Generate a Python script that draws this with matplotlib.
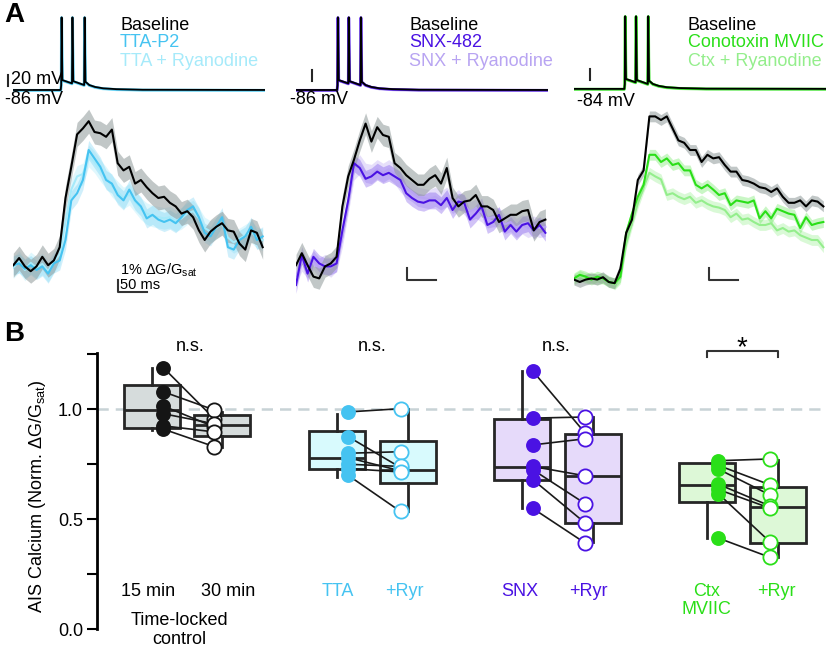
import numpy as np
import matplotlib.pyplot as plt

plt.rcParams['font.family'] = ['Liberation Sans', 'DejaVu Sans']
plt.rcParams['mathtext.fontset'] = 'custom'
plt.rcParams['mathtext.rm'] = 'Liberation Sans'

# ---------------- data ----------------
# Panel A: AIS calcium transients (% dG/Gsat), sampled every 10 ms
ca_time = [0, 10, 20, 30, 40, 50, 60, 70, 80, 90, 100, 110, 120, 130, 140,
           150, 160, 170, 180, 190, 200, 210, 220, 230, 240, 250, 260, 270,
           280, 290, 300, 310, 320, 330, 340, 350, 360, 370, 380, 390, 400,
           410, 420, 430]

ca_tta_base = [-0.1, 0.5, -0.2, -0.6, -0.2, 0.6, -0.1, 0.3, 1.4, 5.5, 8.1, 10.8,
               11.3, 11.9, 11.0, 10.9, 10.6, 11.2, 8.4, 7.8, 8.1, 6.7, 7.0, 6.4,
               5.9, 5.5, 5.6, 5.1, 4.8, 4.2, 4.4, 3.9, 2.8, 2.0, 2.7, 3.1, 3.4,
               2.8, 2.7, 1.7, 1.2, 2.8, 2.6, 1.4]
ca_tta = [-0.1, 0.05, -0.4, -0.1, -0.5, -0.2, -0.8, 0.05, 0.3, 2.0, 5.3, 5.9,
          7.0, 9.5, 8.8, 8.1, 7.0, 6.7, 5.75, 5.3, 6.2, 5.3, 4.8, 3.8, 4.1, 3.7,
          3.5, 3.7, 3.4, 3.9, 4.5, 4.8, 3.9, 2.6, 2.3, 3.1, 3.9, 1.4, 1.2, 2.0,
          2.3, 3.1, 2.0, 2.3]
ca_tta_ryr = [-0.3, 0.2, -0.5, 0.1, -0.3, 0.0, -0.6, 0.2, 0.8, 3.5, 6.2, 7.3,
              7.5, 9.0, 8.5, 7.8, 7.2, 6.5, 6.0, 5.5, 5.8, 5.2, 4.6, 4.2, 4.0,
              3.9, 3.8, 3.9, 3.6, 3.8, 4.2, 4.4, 3.8, 3.0, 2.7, 3.0, 3.4, 2.2,
              1.8, 2.1, 2.4, 2.7, 2.2, 2.0]

ca_snx_base = [-0.1, 0.9, -0.1, -1.05, -1.2, -0.2, 0.05, 0.6, 4.8, 7.3, 8.7, 10.3,
               11.7, 10.2, 11.4, 10.75, 10.6, 8.4, 8.0, 7.4, 7.0, 6.6, 6.6, 7.1,
               7.4, 6.7, 8.0, 5.5, 4.8, 5.2, 5.3, 5.75, 4.8, 4.8, 4.5, 3.5, 3.8,
               4.1, 4.1, 4.4, 4.5, 2.8, 3.5, 3.7]
ca_snx = [-1.75, 0.75, -0.8, 0.6, 0.05, -0.2, -0.2, 0.05, 2.8, 5.3, 8.4, 8.0,
          7.1, 7.3, 7.7, 7.4, 7.6, 7.3, 7.0, 5.9, 5.5, 5.2, 5.1, 5.3, 5.3, 4.9,
          5.5, 4.5, 5.2, 5.1, 3.7, 4.2, 4.8, 3.25, 3.5, 4.1, 2.7, 3.25, 2.7,
          3.25, 3.4, 2.8, 3.25, 2.6]
ca_snx_ryr = [-1.0, 0.2, -0.4, 0.3, -0.3, 0.0, -0.3, 0.2, 2.2, 5.0, 7.8, 8.3,
              7.6, 7.5, 7.9, 7.6, 7.9, 7.5, 6.8, 6.3, 6.0, 5.6, 5.5, 5.4, 5.6,
              5.3, 5.6, 5.0, 5.4, 4.9, 4.4, 4.6, 4.3, 3.8, 3.9, 3.9, 3.3, 3.5,
              3.0, 3.3, 3.0, 3.2, 3.0, 3.1]

ca_ctx_base = [-1.3, -1.5, -1.3, -1.2, -1.3, -1.1, -1.5, -1.6, -0.4, 2.6, 3.7, 7.0,
               7.8, 12.3, 12.3, 12.0, 12.3, 11.3, 10.3, 10.1, 9.5, 9.5, 8.5, 9.1,
               8.8, 8.9, 8.25, 7.7, 7.7, 7.0, 6.9, 6.7, 6.4, 6.3, 6.0, 6.3, 5.6,
               5.1, 5.1, 5.3, 4.8, 5.3, 5.2, 4.8]
ca_ctx = [-1.2, -0.9, -1.05, -1.3, -1.05, -1.2, -1.5, -1.6, -1.05, 2.6, 4.2, 5.6,
          6.6, 9.1, 9.1, 8.5, 8.8, 8.25, 8.4, 7.8, 7.8, 6.6, 6.3, 6.6, 6.2, 5.75,
          5.9, 4.9, 5.3, 5.2, 5.1, 5.3, 3.8, 4.4, 3.8, 4.6, 4.4, 4.2, 4.1, 3.0,
          3.9, 3.25, 3.4, 3.5]
ca_ctx_ryr = [-1.3, -1.0, -1.2, -1.1, -1.3, -1.2, -1.4, -1.7, -1.2, 1.7, 3.4, 5.05,
              6.4, 7.6, 7.3, 7.05, 5.75, 5.9, 5.6, 5.4, 5.6, 5.1, 5.3, 5.0, 4.8,
              4.7, 4.5, 3.9, 4.2, 3.7, 3.8, 3.5, 3.25, 3.25, 3.4, 2.8, 3.0, 2.7,
              2.8, 2.4, 2.2, 2.0, 2.0, 1.4]

ca_sem = [[1.0, 0.8, 0.9], [0.9, 0.7, 0.8], [0.45, 0.45, 0.45]]

# voltage: three-spike burst, time relative to first spike (ms), mV above rest
ap_t_rel = [-100, -1.2, -0.4, 0.3, 1.6, 18.2, 19.0, 20.4, 39.2, 40.0, 41.4,
            48, 58, 72, 95, 140, 380]
ap_v_rel = [0, 0, 9, 132, 18, 12, 132, 16, 9, 132, 15, 9, 5.5, 3, 1.5, 0.4, 0]
spike_onset = [83, 72, 88]
rest_mv = [-86, -86, -84]

legend_labels = [['Baseline', 'TTA-P2', 'TTA + Ryanodine'],
                 ['Baseline', 'SNX-482', 'SNX + Ryanodine'],
                 ['Baseline', 'Conotoxin MVIIC', 'Ctx + Ryanodine']]

# Panel B: normalized AIS calcium
box_labels = ['15 min', '30 min', 'TTA', '+Ryr', 'SNX', '+Ryr', 'Ctx\nMVIIC', '+Ryr']
box_q1 = [0.913, 0.879, 0.728, 0.664, 0.677, 0.482, 0.578, 0.391]
box_med = [0.998, 0.930, 0.777, 0.722, 0.739, 0.697, 0.655, 0.555]
box_q3 = [1.110, 0.976, 0.901, 0.855, 0.957, 0.887, 0.755, 0.648]
box_lo = [0.904, 0.827, 0.694, 0.535, 0.552, 0.394, 0.414, 0.327]
box_hi = [1.187, 0.988, 0.980, 1.001, 1.174, 0.965, 0.755, 0.769]

ctl_15 = [1.19, 1.08, 1.015, 0.98, 0.925, 0.91]
ctl_30 = [0.957, 0.997, 0.92, 0.934, 0.897, 0.83]
tta_pre = [0.988, 0.876, 0.80, 0.78, 0.75, 0.73, 0.70]
tta_ryr = [1.003, 0.735, 0.807, 0.72, 0.74, 0.715, 0.535]
snx_pre = [1.174, 0.96, 0.838, 0.74, 0.725, 0.68, 0.549]
snx_ryr = [0.891, 0.965, 0.866, 0.697, 0.57, 0.482, 0.391]
ctx_pre = [0.766, 0.745, 0.728, 0.659, 0.635, 0.616, 0.414]
ctx_ryr = [0.774, 0.656, 0.61, 0.56, 0.55, 0.396, 0.326]

sig_labels = ['n.s.', 'n.s.', 'n.s.', '*']

# ---------------- style ----------------
C_TTA, C_TTA_L = '#45C3F1', '#A6EAFA'
C_SNX, C_SNX_L = '#4A12E3', '#B8A4F2'
C_CTX, C_CTX_L = '#2ADF18', '#94EE8C'
BOX_FC = ['#D6DCDC', '#D6DCDC', '#D8FAFD', '#D8FAFD', '#E6DAFA', '#E6DAFA',
          '#DDF8D7', '#DDF8D7']
EDGE = '#262626'
FS = 13

fig = plt.figure(figsize=(8.27, 6.56), dpi=100)


def px_axes(left, top, width, height):
    return fig.add_axes([left / 827, 1 - (top + height) / 656, width / 827, height / 656])


# ---------------- panel A ----------------
panel_left = [13.3, 296, 574]
panel_colors = [(C_TTA, C_TTA_L), (C_SNX, C_SNX_L), (C_CTX, C_CTX_L)]
panel_traces = [(ca_tta_base, ca_tta, ca_tta_ryr),
                (ca_snx_base, ca_snx, ca_snx_ryr),
                (ca_ctx_base, ca_ctx, ca_ctx_ryr)]
legend_t = [184, 195, 196]
cbar_t = [180, 192, 232]
vbar_t = [-8.6, 27, 28]

t_ca = np.array(ca_time)
for i in range(3):
    left = panel_left[i]
    c_drug, c_light = panel_colors[i]

    # voltage traces
    axv = px_axes(left, 5, 251.7, 100)
    axv.set_xlim(0, 434)
    axv.set_ylim(-113.3, 68.5)
    axv.axis('off')
    tv = spike_onset[i] + np.array(ap_t_rel)
    vv = rest_mv[i] + np.array(ap_v_rel)
    axv.plot(tv, vv - 0.8, color=c_light, lw=2.2)
    axv.plot(tv, vv - 0.5, color=c_drug, lw=1.8)
    axv.plot(tv, vv, color='black', lw=1.3)
    for j, (lab, col) in enumerate(zip(legend_labels[i], ['black', c_drug, c_light])):
        axv.text(legend_t[i], [32, 0, -34.5][j], lab, color=col, fontsize=FS,
                 ha='left', va='center')
    # 20 mV bar and resting potential
    vb0 = rest_mv[i] + (8 if i == 0 else 17)
    axv.plot([vbar_t[i], vbar_t[i]], [vb0, vb0 + 20], color=EDGE, lw=1.5, clip_on=False)
    if i == 0:
        axv.text(-4.8, -67.8, '20 mV', fontsize=FS, ha='left', va='center')
    axv.text([-14.3, -10.3, 5.2][i], [-104, -104, -107][i], f'{rest_mv[i]} mV',
             fontsize=FS, ha='left', va='center', clip_on=False)

    # calcium traces
    axc = px_axes(left, 105, 251.7, 195)
    axc.set_xlim(0, 434)
    axc.set_ylim(-3, 13.25)
    axc.axis('off')
    base, drug, drug_ryr = [np.array(a) for a in panel_traces[i]]
    s_base, s_drug, s_ryr = ca_sem[i]
    axc.fill_between(t_ca, drug_ryr - s_ryr, drug_ryr + s_ryr, color=c_light, alpha=0.35, lw=0)
    axc.plot(t_ca, drug_ryr, color=c_light, lw=1.5)
    axc.fill_between(t_ca, drug - s_drug, drug + s_drug, color=c_drug, alpha=0.25, lw=0)
    axc.plot(t_ca, drug, color=c_drug, lw=1.5)
    axc.fill_between(t_ca, base - s_base, base + s_base, color='#8F9999', alpha=0.55, lw=0)
    axc.plot(t_ca, base, color='black', lw=1.5)

    y0 = -2.33 if i == 0 else -1.33
    axc.plot([cbar_t[i], cbar_t[i], cbar_t[i] + 50], [y0 + 1, y0, y0],
             color='#333333', lw=1.5, clip_on=False)
    if i == 0:
        axc.text(184, -0.5, r'1% $\Delta$G/G$\mathregular{_{sat}}$', fontsize=10.5,
                 ha='left', va='center')
        axc.text(184, -1.75, '50 ms', fontsize=10.5, ha='left', va='center')

# ---------------- panel B ----------------
axb = px_axes(97, 352.7, 730, 276.3)

box_pos = [0, 1, 2.64, 3.66, 5.28, 6.30, 7.93, 8.94]
stats = [dict(med=m, q1=a, q3=b, whislo=lo, whishi=hi, fliers=[])
         for a, m, b, lo, hi in zip(box_q1, box_med, box_q3, box_lo, box_hi)]
bp = axb.bxp(stats, positions=box_pos, widths=0.8, showfliers=False, showcaps=False,
             patch_artist=True, manage_ticks=False,
             boxprops=dict(linewidth=2, edgecolor=EDGE),
             medianprops=dict(color=EDGE, linewidth=2),
             whiskerprops=dict(color=EDGE, linewidth=2))
for patch, fc in zip(bp['boxes'], BOX_FC):
    patch.set_facecolor(fc)

axb.set_xlim(-0.786, 9.643)
axb.set_ylim(0, 1.2577)
for sp in ['top', 'right', 'bottom']:
    axb.spines[sp].set_visible(False)
axb.spines['left'].set_linewidth(2)
axb.set_xticks([])
axb.set_yticks([0, 0.25, 0.5, 0.75, 1.0, 1.25])
axb.set_yticklabels(['0.0', '', '0.5', '', '1.0', ''])
axb.tick_params(axis='y', length=7, width=1.5, labelsize=FS, pad=3)
axb.axhline(1.0, color='#C8D3D6', ls=(0, (4.5, 2.8)), lw=1.8, zorder=0)

pairs = [(ctl_15, ctl_30, '#151515'), (tta_pre, tta_ryr, C_TTA),
         (snx_pre, snx_ryr, C_SNX), (ctx_pre, ctx_ryr, C_CTX)]
for g, (pre, post, col) in enumerate(pairs):
    xa = box_pos[2 * g] + 0.16
    xb = box_pos[2 * g + 1] - 0.11
    for a, b in zip(pre, post):
        axb.plot([xa, xb], [a, b], color='#1A1A1A', lw=1.2, zorder=3)
    axb.scatter([xa] * len(pre), pre, s=115, color=col, zorder=4, lw=0)
    axb.scatter([xb] * len(post), post, s=105, facecolor='white', edgecolor=col,
                lw=1.3, zorder=4)

label_cols = ['black', 'black', C_TTA, C_TTA, C_SNX, C_SNX, C_CTX, C_CTX]
label_x = [-0.06, 1.09, 2.66, 3.61, 5.26, 6.24, 7.92, 8.92]
for x, lab, col in zip(label_x, box_labels, label_cols):
    axb.text(x, 0.13 if '\n' in lab else 0.17, lab, color=col, fontsize=FS,
             ha='center', va='center', linespacing=1.05)
axb.text(0.39, -0.005, 'Time-locked\ncontrol', fontsize=FS, ha='center', va='center',
         linespacing=1.1, clip_on=False)

for x, s in zip([0.55, 3.14, 5.77], sig_labels[:3]):
    axb.text(x, 1.285, s, fontsize=FS, ha='center', va='center', clip_on=False)
axb.plot([7.93, 7.93, 8.94, 8.94], [1.24, 1.267, 1.267, 1.24], color='#333333',
         lw=1.5, clip_on=False)
axb.text(8.43, 1.28, sig_labels[3], fontsize=20, ha='center', va='center', clip_on=False)

fig.text(38 / 827, 1 - 496.5 / 656, r'AIS Calcium (Norm. $\Delta$G/G$\mathregular{_{sat}}$)',
         rotation=90, ha='center', va='center', fontsize=FS)

fig.text(4 / 827, 1 - 15 / 656, 'A', fontsize=20, fontweight='bold', va='center')
fig.text(4 / 827, 1 - 334 / 656, 'B', fontsize=20, fontweight='bold', va='center')

fig.savefig('out.png', dpi=100)
